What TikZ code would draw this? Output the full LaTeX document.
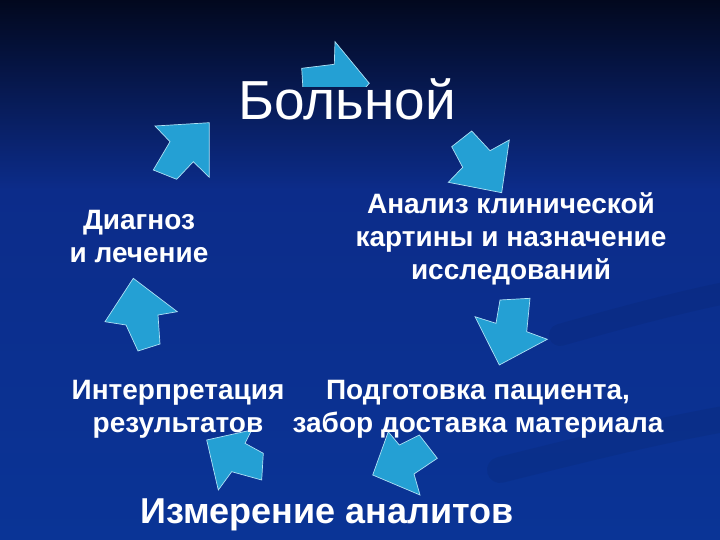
\documentclass[tikz,border=0pt]{standalone}
\usepackage{fontspec}
\setmainfont{Liberation Sans}
\usepackage{xcolor}
\usetikzlibrary{positioning}

\definecolor{bgtop}{RGB}{2,8,30}
\definecolor{bgmid}{RGB}{12,44,138}
\definecolor{bgbot}{RGB}{10,52,150}
\definecolor{arrowfill}{RGB}{36,160,212}
\definecolor{arrowedge}{RGB}{175,225,245}

\tikzset{
  blockarrow/.style={fill=arrowfill, draw=arrowedge, line width=0.7pt, line join=miter},
  steptext/.style={text=white, font=\bfseries\fontsize{28}{33}\selectfont, align=center, anchor=base, inner sep=0pt}
}

\begin{document}
\begin{tikzpicture}[x=1pt, y=-1pt]
    \useasboundingbox (0,0) rectangle (720,540);
    % background
    \shade[top color=bgtop, bottom color=bgmid] (0,0) rectangle (720,190);
    \shade[top color=bgmid, bottom color=bgbot] (0,190) rectangle (720,540);
    \draw[line width=22pt, bgtop, opacity=0.07, line cap=round] (560,335) .. controls (620,318) and (680,302) .. (730,292);
    \draw[line width=26pt, bgtop, opacity=0.07, line cap=round] (500,470) .. controls (580,450) and (660,430) .. (730,418);
    %
    % arrows of the cycle
    \begin{scope}
      \clip (0,0) rectangle (720,87);
      \draw[blockarrow] (301.7,68.3) -- (334.3,64.3) -- (335,41.7) -- (369.3,83.3) -- (334,122) -- (333,104) -- (304,106) -- cycle;
    \end{scope}
    \draw[blockarrow] (471.7,131) -- (490,150.7) -- (509.3,140) -- (501.7,192.7) -- (448.3,182.3) -- (462.7,167.3) -- (451.7,146.7) -- cycle;
    \draw[blockarrow] (500,300) -- (530,298.3) -- (526.7,331.7) -- (547.3,339.3) -- (499.3,365) -- (475,316.7) -- (496,323.3) -- cycle;
    \draw[blockarrow] (388.3,431.7) -- (399.3,445) -- (419.3,435) -- (437.3,458.3) -- (414,474) -- (420,495) -- (372.7,475) -- cycle;
    \draw[blockarrow] (206.7,440) -- (251.7,430) -- (245,443.3) -- (263.3,453.3) -- (261.7,480) -- (231.7,471.7) -- (218.3,490) -- cycle;
    \draw[blockarrow] (133.3,278.3) -- (177.3,311.7) -- (158,315) -- (160,344) -- (138,351) -- (126,325) -- (105,321.7) -- cycle;
    \draw[blockarrow] (209.3,122.7) -- (155,126) -- (170,141.7) -- (153.3,170) -- (176.7,179.3) -- (193.3,161.7) -- (209.3,177.3) -- cycle;
    %
    % stages (base = last line)
    \node[steptext, font=\fontsize{55}{60}\selectfont] (patient) at (347,120) {Больной};
    \node[steptext] (analysis) at (511,279) {Анализ клинической\\картины и назначение\\исследований};
    \node[steptext] (diagnosis) at (139,262) {Диагноз\\и лечение};
    \node[steptext] (interp) at (178,432) {Интерпретация\\результатов};
    \node[steptext] (prep) at (478,432) {Подготовка пациента,\\забор доставка материала};
    \node[steptext, font=\bfseries\fontsize{36}{40}\selectfont] (measure) at (327,523) {Измерение аналитов};
\end{tikzpicture}
\end{document}
